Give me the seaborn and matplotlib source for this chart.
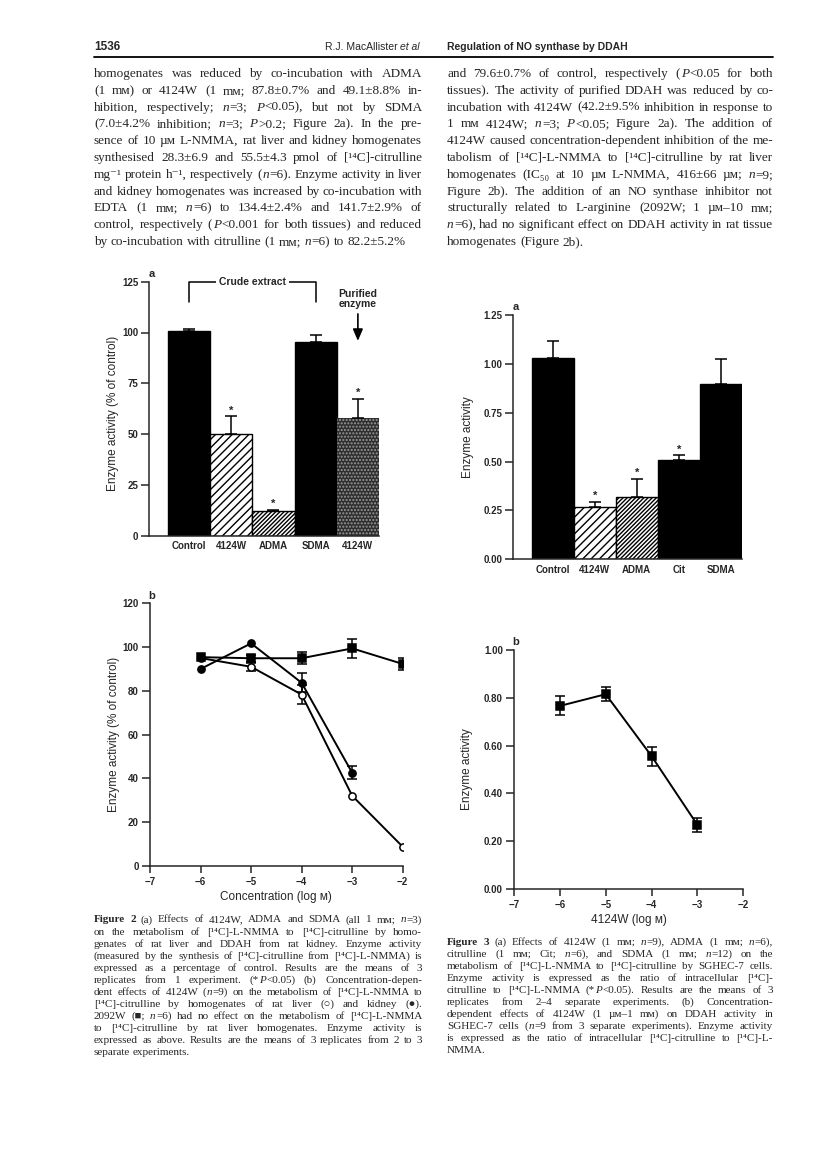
"""
Figures 2 et 3 — DDAH (page 1536), reproduction avec seaborn.
Sortie : out.png (816 x 1160 px)
"""

import re
import numpy as np
import pandas as pd
import matplotlib.pyplot as plt
import seaborn as sns
from matplotlib.transforms import IdentityTransform

W, H = 816, 1160

# ── Données ─────────────────────────────────────────────────────
fig2a_labels = ["Control", "4124W", "ADMA", "SDMA", "4124W"]
fig2a_mean = [100.7, 50.2, 12.3, 95.2, 58.1]
fig2a_sem = [1.0, 8.6, 0.5, 3.6, 9.2]
fig2a_sig = [False, True, True, False, True]

fig3a_labels = ["Control", "4124W", "ADMA", "Cit", "SDMA"]
fig3a_mean = [1.028, 0.266, 0.320, 0.509, 0.897]
fig3a_sem = [0.090, 0.029, 0.091, 0.023, 0.128]
fig3a_sig = [False, True, True, True, False]

fig2b_conc = [-6, -5, -4, -3, -2]
liver_mean = [95.0, 91.0, 78.3, 32.1, 8.8]
liver_sem = [0.0, 1.8, 4.3, 0.0, 0.0]
kidney_conc = [-6, -5, -4, -3]
kidney_mean = [90.0, 101.7, 83.7, 42.6]
kidney_sem = [0.0, 0.0, 4.3, 3.0]
w2092_mean = [95.4, 94.9, 94.9, 99.4, 92.3]
w2092_sem = [0.0, 1.5, 2.7, 4.3, 2.9]

fig3b_conc = [-6, -5, -4, -3]
sghec_mean = [0.766, 0.815, 0.556, 0.268]
sghec_sem = [0.040, 0.030, 0.040, 0.030]

xticks_log = [-7, -6, -5, -4, -3, -2]

# ‹…› = italique
text_left = [
    "homogenates was reduced by co-incubation with ADMA",
    "(1 mᴍ) or 4124W (1 mᴍ; 87.8±0.7% and 49.1±8.8% in-",
    "hibition, respectively; ‹n›=3; ‹P›<0.05), but not by SDMA",
    "(7.0±4.2% inhibition; ‹n›=3; ‹P›>0.2; Figure 2a). In the pre-",
    "sence of 10 µᴍ L-NMMA, rat liver and kidney homogenates",
    "synthesised 28.3±6.9 and 55.5±4.3 pmol of [¹⁴C]-citrulline",
    "mg⁻¹ protein h⁻¹, respectively (‹n›=6). Enzyme activity in liver",
    "and kidney homogenates was increased by co-incubation with",
    "EDTA (1 mᴍ; ‹n›=6) to 134.4±2.4% and 141.7±2.9% of",
    "control, respectively (‹P›<0.001 for both tissues) and reduced",
    "by co-incubation with citrulline (1 mᴍ; ‹n›=6) to 82.2±5.2%",
]
text_right = [
    "and 79.6±0.7% of control, respectively (‹P›<0.05 for both",
    "tissues). The activity of purified DDAH was reduced by co-",
    "incubation with 4124W (42.2±9.5% inhibition in response to",
    "1 mᴍ 4124W; ‹n›=3; ‹P›<0.05; Figure 2a). The addition of",
    "4124W caused concentration-dependent inhibition of the me-",
    "tabolism of [¹⁴C]-L-NMMA to [¹⁴C]-citrulline by rat liver",
    "homogenates (IC₅₀ at 10 µᴍ L-NMMA, 416±66 µᴍ; ‹n›=9;",
    "Figure 2b). The addition of an NO synthase inhibitor not",
    "structurally related to L-arginine (2092W; 1 µᴍ–10 mᴍ;",
    "‹n›=6), had no significant effect on DDAH activity in rat tissue",
    "homogenates (Figure 2b).",
]
caption2 = [
    "Figure 2 (a) Effects of 4124W, ADMA and SDMA (all 1 mᴍ; ‹n›=3)",
    "on the metabolism of [¹⁴C]-L-NMMA to [¹⁴C]-citrulline by homo-",
    "genates of rat liver and DDAH from rat kidney. Enzyme activity",
    "(measured by the synthesis of [¹⁴C]-citrulline from [¹⁴C]-L-NMMA) is",
    "expressed as a percentage of control. Results are the means of 3",
    "replicates from 1 experiment. (*‹P›<0.05) (b) Concentration-depen-",
    "dent effects of 4124W (‹n›=9) on the metabolism of [¹⁴C]-L-NMMA to",
    "[¹⁴C]-citrulline by homogenates of rat liver (○) and kidney (●).",
    "2092W (■; ‹n›=6) had no effect on the metabolism of [¹⁴C]-L-NMMA",
    "to [¹⁴C]-citrulline by rat liver homogenates. Enzyme activity is",
    "expressed as above. Results are the means of 3 replicates from 2 to 3",
    "separate experiments.",
]
caption3 = [
    "Figure 3 (a) Effects of 4124W (1 mᴍ; ‹n›=9), ADMA (1 mᴍ; ‹n›=6),",
    "citrulline (1 mᴍ; Cit; ‹n›=6), and SDMA (1 mᴍ; ‹n›=12) on the",
    "metabolism of [¹⁴C]-L-NMMA to [¹⁴C]-citrulline by SGHEC-7 cells.",
    "Enzyme activity is expressed as the ratio of intracellular [¹⁴C]-",
    "citrulline to [¹⁴C]-L-NMMA (*‹P›<0.05). Results are the means of 3",
    "replicates from 2–4 separate experiments. (b) Concentration-",
    "dependent effects of 4124W (1 µᴍ–1 mᴍ) on DDAH activity in",
    "SGHEC-7 cells (‹n›=9 from 3 separate experiments). Enzyme activity",
    "is expressed as the ratio of intracellular [¹⁴C]-citrulline to [¹⁴C]-L-",
    "NMMA.",
]

# ── Style ───────────────────────────────────────────────────────
sns.set_style("ticks")
SANS = ["Liberation Sans", "DejaVu Sans"]
SERIF = ["Liberation Serif", "DejaVu Serif", "DejaVu Sans"]
plt.rcParams["font.family"] = SANS
plt.rcParams["hatch.linewidth"] = 1.0
plt.rcParams["axes.linewidth"] = 1.1

fig = plt.figure(figsize=(W / 100, H / 100), dpi=100)
renderer = fig.canvas.get_renderer()


def px_rect(left, top, right, bottom):
    return [left / W, 1 - bottom / H, (right - left) / W, (bottom - top) / H]


def draw_block(lines, x0, x1, y_first, dy, size, bold_lead=0, ragged_last=True):
    """Texte justifié, mot par mot (coordonnées en pixels depuis le haut)."""
    col = x1 - x0
    join = 0.4

    def build(fs):
        rows = []
        for i, line in enumerate(lines):
            row = []
            for j, word in enumerate(line.split()):
                bold = i == 0 and j < bold_lead
                segs = []
                for k, part in enumerate(re.split(r"‹([^›]*)›", word)):
                    if not part:
                        continue
                    segs.append(fig.text(0, 0, part, transform=IdentityTransform(),
                                         family=SERIF, size=fs,
                                         weight="bold" if bold else "normal",
                                         style="italic" if k % 2 else "normal",
                                         ha="left", va="baseline"))
                row.append(segs)
            rows.append(row)
        return rows

    def seg_widths(segs):
        return [s.get_window_extent(renderer).width for s in segs]

    def word_width(segs):
        return sum(seg_widths(segs)) + join * (len(segs) - 1)

    rows = build(size)
    gap_min = 0.24 * size * 100 / 72
    need = max(sum(word_width(w) for w in row) + gap_min * (len(row) - 1)
               for row in rows)
    if need > col:
        for row in rows:
            for segs in row:
                for s in segs:
                    s.remove()
        size = size * col / need
        rows = build(size)

    for i, row in enumerate(rows):
        widths = [word_width(w) for w in row]
        last = ragged_last and i == len(rows) - 1
        if last or len(row) == 1:
            gap = 0.25 * size * 100 / 72
        else:
            gap = (col - sum(widths)) / (len(row) - 1)
        x = x0
        y = H - (y_first + i * dy)
        for segs, w in zip(row, widths):
            xs = x
            for s, sw in zip(segs, seg_widths(segs)):
                s.set_position((xs, y))
                xs += sw + join
            x += w + gap


def style_axes(ax, yticks, fmt):
    sns.despine(ax=ax)
    ax.set_yticks(yticks)
    ax.set_yticklabels([fmt.format(v) for v in yticks])
    ax.tick_params(axis="y", direction="out", length=6, width=1.1, pad=2,
                   labelsize=7)
    for lab in ax.get_yticklabels():
        lab.set_fontweight("bold")
    ax.grid(False)


def bar_panel(ax, labels, means, sems, sig, hatches, faces, edges, ymax, yticks, fmt):
    n = len(means)
    df = pd.DataFrame({"pos": np.arange(n), "mean": means})
    sns.barplot(data=df, x="pos", y="mean", width=1.0, color="black",
                edgecolor="black", linewidth=1.0, errorbar=None, ax=ax)
    for p, h, fc, ec in zip(ax.patches, hatches, faces, edges):
        p.set_facecolor(fc)
        p.set_hatch(h)
        if ec != "black":
            p.set_edgecolor(ec)
            p.set_linewidth(0)
    ax.errorbar(df["pos"], df["mean"], yerr=[np.zeros(n), sems], fmt="none",
                ecolor="black", elinewidth=1.1, capsize=4, capthick=1.1, zorder=1)
    for i in range(n):
        if sig[i]:
            ax.annotate("*", xy=(i, means[i] + sems[i]), xytext=(0, 2),
                        textcoords="offset points", ha="center", va="baseline",
                        fontsize=8, fontweight="bold")
    ax.set_xlim(-0.94, n - 0.5)
    ax.set_ylim(0, ymax)
    ax.set_xticks(range(n))
    ax.set_xticklabels(labels, fontweight="bold", fontsize=7)
    ax.tick_params(axis="x", length=0, pad=4)
    ax.set_xlabel("")
    style_axes(ax, yticks, fmt)


def panel_letter(ax, letter):
    ax.annotate(letter, xy=(0, 1), xycoords="axes fraction", xytext=(1.5, 2),
                textcoords="offset points", ha="center", va="bottom",
                fontsize=8, fontweight="bold")


# ── En-tête et texte courant ────────────────────────────────────
fig.text(94 / W, 1 - 47 / H, "1536", ha="left", va="center", fontsize=8.5,
         fontweight="bold")
t_etal = fig.text(420 / W, 1 - 47 / H, "et al", ha="right", va="center",
                  fontsize=7.5, style="italic")
w_etal = t_etal.get_window_extent(renderer).width
fig.text((420 - w_etal - 3) / W, 1 - 47 / H, "R.J. MacAllister", ha="right",
         va="center", fontsize=7.5)
fig.text(447 / W, 1 - 47 / H, "Regulation of NO synthase by DDAH", ha="left",
         va="center", fontsize=7.5, fontweight="bold")
fig.add_artist(plt.Line2D([94 / W, 773 / W], [1 - 57 / H, 1 - 57 / H],
                          color="black", linewidth=1.3))

draw_block(text_left, 94, 422, 77, 16.8, 10)
draw_block(text_right, 447, 773, 77, 16.8, 10)

# ── Figure 2a ───────────────────────────────────────────────────
ax2a = fig.add_axes(px_rect(149.3, 281.7, 379, 535.7))
bar_panel(ax2a, fig2a_labels, fig2a_mean, fig2a_sem, fig2a_sig,
          hatches=["", "////", "////////", "", "....."],
          faces=["black", "white", "white", "black", "#2e2e2e"],
          edges=["black", "black", "black", "black", "#9a9a9a"],
          ymax=125, yticks=[0, 25, 50, 75, 100, 125], fmt="{:.0f}")
ax2a.set_ylabel("Enzyme activity (% of control)", fontsize=8.5, va="center")
ax2a.yaxis.set_label_coords(-36 / 229.7, 0.48)
panel_letter(ax2a, "a")

# accolade "Crude extract"
ax2a.plot([0, 0, 3, 3], [115, 125, 125, 115], color="black", linewidth=1.1,
          clip_on=False)
ax2a.text(1.5, 125, "Crude extract", ha="center", va="center", fontsize=7.5,
          fontweight="bold", bbox=dict(facecolor="white", edgecolor="none", pad=2))
ax2a.text(4, 116.5, "Purified\nenzyme", ha="center", va="center", fontsize=7.5,
          fontweight="bold", linespacing=1.05)
ax2a.annotate("", xy=(4, 94.5), xytext=(4, 110.5),
              arrowprops=dict(arrowstyle="-|>,head_length=0.7,head_width=0.3",
                              color="black", linewidth=1.2, mutation_scale=10))

# ── Figure 3a ───────────────────────────────────────────────────
ax3a = fig.add_axes(px_rect(513.3, 315, 741.7, 559.3))
bar_panel(ax3a, fig3a_labels, fig3a_mean, fig3a_sem, fig3a_sig,
          hatches=["", "////", "////////", "", ""],
          faces=["black", "white", "white", "black", "black"],
          edges=["black"] * 5,
          ymax=1.25, yticks=[0, 0.25, 0.5, 0.75, 1.0, 1.25], fmt="{:.2f}")
ax3a.set_ylabel("Enzyme activity", fontsize=8.5, va="center")
ax3a.yaxis.set_label_coords(-45 / 228.4, 0.5)
panel_letter(ax3a, "a")


# ── Figures 2b et 3b ────────────────────────────────────────────
def line_series(ax, x, y, err, marker, face):
    sns.lineplot(x=x, y=y, ax=ax, color="black", linewidth=1.4, marker=marker,
                 markersize=5.2, markerfacecolor=face, markeredgecolor="black",
                 markeredgewidth=1.1, zorder=3)
    keep = [i for i, e in enumerate(err) if e > 0]
    ax.errorbar([x[i] for i in keep], [y[i] for i in keep],
                yerr=[err[i] for i in keep], fmt="none", ecolor="black",
                elinewidth=1.1, capsize=3.5, capthick=1.1, zorder=2)


def log_axes(ax, ymax, yticks, fmt, xlabel):
    ax.set_xlim(-7, -2)
    ax.set_ylim(0, ymax)
    ax.set_xticks(xticks_log)
    ax.tick_params(axis="x", direction="out", length=5, width=1.1, pad=3,
                   labelsize=7)
    for lab in ax.get_xticklabels():
        lab.set_fontweight("bold")
    style_axes(ax, yticks, fmt)
    ax.set_xlabel(xlabel, fontsize=8.5, va="center")


ax2b = fig.add_axes(px_rect(150, 603.3, 402.7, 866))
line_series(ax2b, fig2b_conc, liver_mean, liver_sem, "o", "white")
line_series(ax2b, kidney_conc, kidney_mean, kidney_sem, "o", "black")
line_series(ax2b, fig2b_conc, w2092_mean, w2092_sem, "s", "black")
log_axes(ax2b, 120, [0, 20, 40, 60, 80, 100, 120], "{:.0f}",
         "Concentration (log ᴍ)")
ax2b.set_ylabel("Enzyme activity (% of control)", fontsize=8.5, va="center")
ax2b.yaxis.set_label_coords(-36 / 252.7, 0.5)
ax2b.xaxis.set_label_coords(0.5, -30.7 / 262.7)
panel_letter(ax2b, "b")

ax3b = fig.add_axes(px_rect(514, 650, 743.3, 889))
line_series(ax3b, fig3b_conc, sghec_mean, sghec_sem, "s", "black")
log_axes(ax3b, 1.0, [0, 0.2, 0.4, 0.6, 0.8, 1.0], "{:.2f}", "4124W (log ᴍ)")
ax3b.set_ylabel("Enzyme activity", fontsize=8.5, va="center")
ax3b.yaxis.set_label_coords(-47 / 229.3, 0.5)
ax3b.xaxis.set_label_coords(0.5, -31 / 239)
panel_letter(ax3b, "b")

# ── Légendes ────────────────────────────────────────────────────
draw_block(caption2, 94, 422, 922.5, 12.03, 8, bold_lead=2)
draw_block(caption3, 447, 773, 945, 12.03, 8, bold_lead=2)

fig.savefig("out.png", dpi=100)
plt.close(fig)
